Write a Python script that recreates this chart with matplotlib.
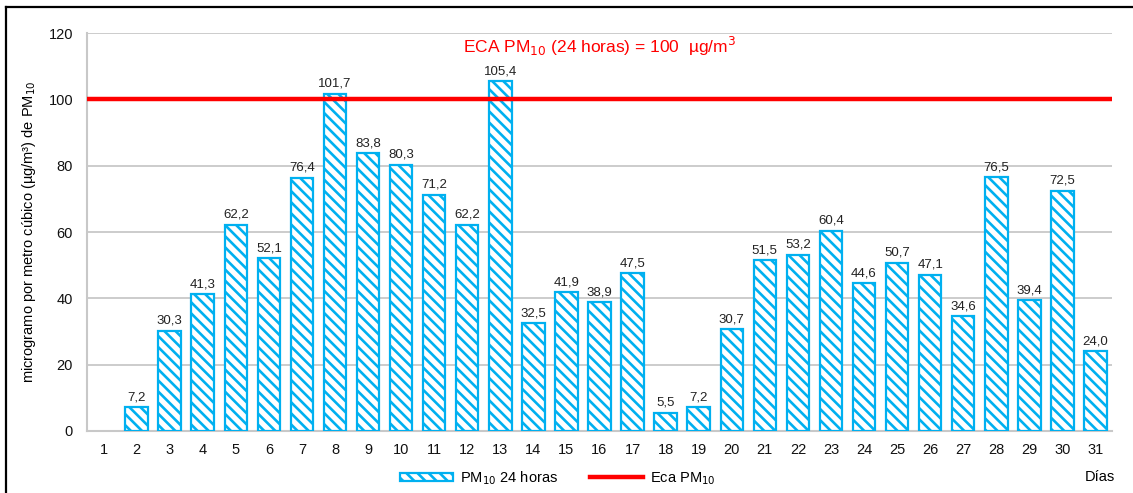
import matplotlib
matplotlib.use("Agg")
import matplotlib.pyplot as plt
from matplotlib.lines import Line2D
from matplotlib.patches import Patch
import numpy as np

plt.rcParams['font.family'] = ['Liberation Sans', 'DejaVu Sans']
plt.rcParams['hatch.color'] = '#22B8F0'
plt.rcParams['hatch.linewidth'] = 1.9

days = list(range(1, 32))
pm10 = [np.nan, 7.2, 30.3, 41.3, 62.2, 52.1, 76.4, 101.7, 83.8, 80.3, 71.2, 62.2, 105.4,
        32.5, 41.9, 38.9, 47.5, 5.5, 7.2, 30.7, 51.5, 53.2, 60.4, 44.6, 50.7, 47.1,
        34.6, 76.5, 39.4, 72.5, 24.0]
eca = 100
yticks = [0, 20, 40, 60, 80, 100, 120]

fig = plt.figure(figsize=(11.33, 4.93), dpi=100)
ax = fig.add_axes([87/1133, 1-431/493, (1112-87)/1133, (431-33)/493])

x = np.array(days)
vals = np.array(pm10, dtype=float)
bars = ax.bar(x, np.nan_to_num(vals), width=0.68, color='white', edgecolor='#00B0F0',
              linewidth=1.6, hatch='\\\\\\', zorder=3)
for b, v in zip(bars, vals):
    if np.isnan(v):
        b.set_visible(False)
        continue
    ax.text(b.get_x() + b.get_width()/2, v + 1.2, f"{v:.1f}".replace('.', ','),
            ha='center', va='bottom', fontsize=9.5, color='#222222', zorder=5)

ax.axhline(eca, color='#FF0000', linewidth=3.2, zorder=4)

ax.set_xlim(0.5, 31.5)
ax.set_ylim(0, 120)
ax.set_yticks(yticks)
ax.set_xticks(days)
ax.tick_params(axis='both', length=0, labelsize=10.5, colors='#111111')
ax.tick_params(axis='y', pad=10)
ax.tick_params(axis='x', pad=9)
ax.yaxis.grid(True, color='#C8C8C8', linewidth=1.3, zorder=0)
ax.set_axisbelow(True)
for s in ['top', 'right']:
    ax.spines[s].set_visible(False)
for s in ['left', 'bottom']:
    ax.spines[s].set_color('#C8C8C8')
    ax.spines[s].set_linewidth(1.5)

ax.set_ylabel('microgramo por metro cúbico (µg/m³) de PM$_{10}$', fontsize=10.5)
ax.yaxis.set_label_coords(-49/1025, 0.5)

ax.text(0.5, 0.967, 'ECA PM$_{10}$ (24 horas) = 100  µg/m$^3$', transform=ax.transAxes,
        ha='center', va='center', color='#FF0000', fontsize=12.5)

fig.text(1100/1133, 1-477/493, 'Días', ha='center', va='center', fontsize=10.5)

handles = [Patch(facecolor='white', edgecolor='#00B0F0', hatch='\\\\\\', linewidth=1.6),
           Line2D([0], [0], color='#FF0000', linewidth=3.2)]
labels = ['PM$_{10}$ 24 horas', 'Eca PM$_{10}$']
fig.legend(handles, labels, loc='center', bbox_to_anchor=(558/1133, 1-478/493), ncol=2,
           frameon=False, fontsize=10.5, handlelength=3.6, handleheight=0.5,
           columnspacing=2.2, handletextpad=0.5)

fig.add_artist(Line2D([6/1133, 6/1133], [0, 1-7/493], color='black', linewidth=1.6,
                      transform=fig.transFigure))
fig.add_artist(Line2D([6/1133, 1], [1-7/493, 1-7/493], color='black', linewidth=1.6,
                      transform=fig.transFigure))

fig.savefig('out.png', dpi=100)
